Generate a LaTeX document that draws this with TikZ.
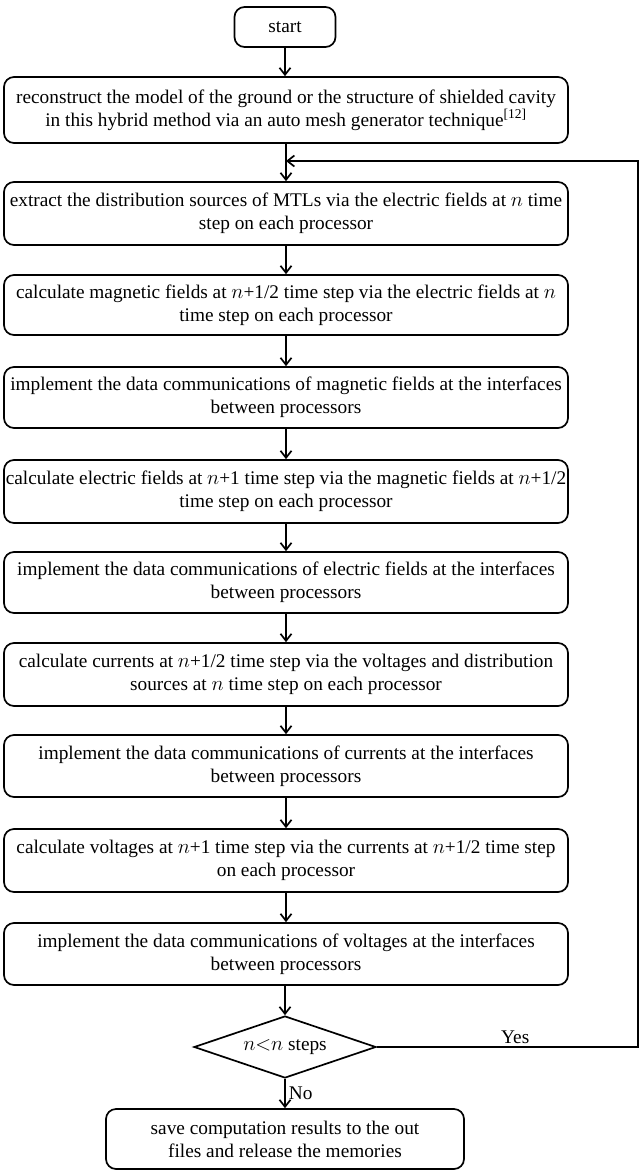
\documentclass[tikz,border=0pt]{standalone}
\usepackage{fontspec}
\setmainfont{Liberation Serif}
\usetikzlibrary{shapes.geometric,arrows.meta}
\begin{document}
\begin{tikzpicture}[x=1pt,y=-1pt,
  box/.style={draw, rounded corners=10pt, line width=1.7pt, minimum width=564pt,
    minimum height=62pt, align=center, inner sep=0pt, font=\fontsize{19.3}{23}\selectfont},
  dec/.style={draw, diamond, aspect=2.9, line width=1.7pt, minimum width=182pt,
    minimum height=62pt, inner sep=0pt, font=\fontsize{19.3}{23}\selectfont},
  arr/.style={-{Straight Barb[length=7pt,width=11pt]}, line width=1.7pt},
  lbl/.style={font=\fontsize{19.3}{23}\selectfont}]
\useasboundingbox (0,0) rectangle (638,1171);
\node[box, minimum width=101pt, minimum height=40pt] (start) at (285,27) {start};
\node[box, minimum height=66pt] (b1) at (286,110) {reconstruct the model of the ground or the structure of shielded cavity\\ in this hybrid method via an auto mesh generator technique\textsuperscript{[12]}};
\node[box, minimum height=63pt] (b2) at (286,213.5) {extract the distribution sources of MTLs via the electric fields at $n$ time\\ step on each processor};
\node[box, minimum height=60pt] (b3) at (286,305) {calculate magnetic fields at $n$+1/2 time step via the electric fields at $n$\\ time step on each processor};
\node[box, minimum height=61pt] (b4) at (286,397.5) {implement the data communications of magnetic fields at the interfaces\\ between processors};
\node[box, minimum height=63pt] (b5) at (286,491.5) {calculate electric fields at $n$+1 time step via the magnetic fields at $n$+1/2\\ time step on each processor};
\node[box, minimum height=61pt] (b6) at (286,582.5) {implement the data communications of electric fields at the interfaces\\ between processors};
\node[box, minimum height=63pt] (b7) at (286,674.5) {calculate currents at $n$+1/2 time step via the voltages and distribution\\ sources at $n$ time step on each processor};
\node[box, minimum height=62pt] (b8) at (286,766) {implement the data communications of currents at the interfaces\\ between processors};
\node[box, minimum height=63pt] (b9) at (286,860.5) {calculate voltages at $n$+1 time step via the currents at $n$+1/2 time step\\ on each processor};
\node[box, minimum height=62pt] (b10) at (286,954) {implement the data communications of voltages at the interfaces\\ between processors};
\node[dec] (d) at (285,1047) {$n{<}n$ steps};
\node[box, minimum width=358pt, minimum height=60pt] (save) at (285,1139) {save computation results to the out\\ files and release the memories};
\coordinate (rt) at (638,161);
\coordinate (jn) at (286,161);
\draw[arr] (start) -- (start |- b1.north);
\draw[arr] (b1) -- (b2);
\draw[arr] (b2) -- (b3);
\draw[arr] (b3) -- (b4);
\draw[arr] (b4) -- (b5);
\draw[arr] (b5) -- (b6);
\draw[arr] (b6) -- (b7);
\draw[arr] (b7) -- (b8);
\draw[arr] (b8) -- (b9);
\draw[arr] (b9) -- (b10);
\draw[arr] (b10.south -| d.north) -- (d.north);
\draw[arr] (d.south) -- node[lbl, right, inner sep=3pt] {No} (save.north -| d.south);
\draw[arr] (d.east) -- node[lbl, above, pos=0.53, inner sep=2pt] {Yes} (d.east -| rt) -- (rt) -- (jn);
\end{tikzpicture}
\end{document}
